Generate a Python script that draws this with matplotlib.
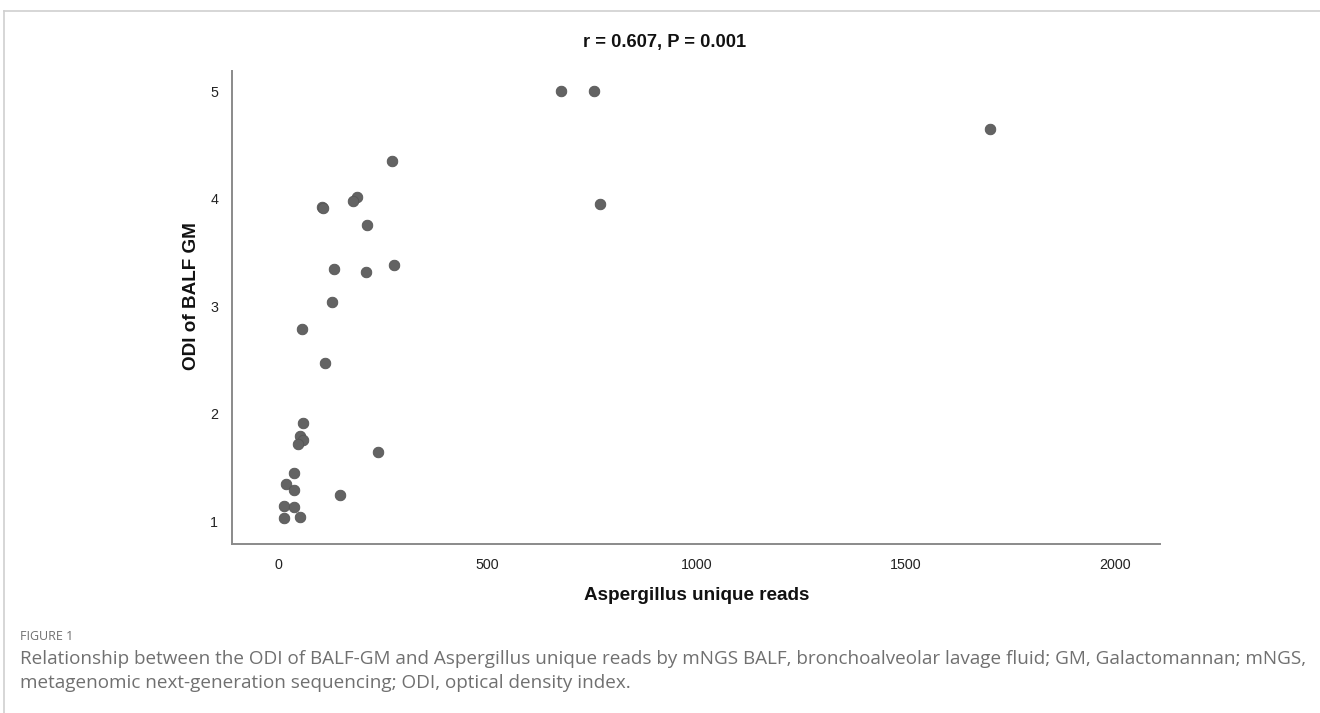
import matplotlib
matplotlib.use("Agg")
import matplotlib.pyplot as plt
from matplotlib.lines import Line2D

# Data
reads = [675, 756, 768, 1700, 273, 188, 178, 104, 108, 213, 133, 209, 278,
         129, 57, 113, 59, 53, 60, 48, 238, 38, 18, 38, 148, 14, 37, 15, 53]
odi = [5.00, 5.00, 3.95, 4.65, 4.35, 4.02, 3.98, 3.92, 3.91, 3.76, 3.35, 3.32, 3.38,
       3.04, 2.79, 2.47, 1.91, 1.79, 1.75, 1.72, 1.64, 1.45, 1.34, 1.29, 1.24, 1.14, 1.13, 1.03, 1.04]
xticks = [0, 500, 1000, 1500, 2000]
yticks = [1, 2, 3, 4, 5]

title = "r = 0.607, P = 0.001"
xlabel = "Aspergillus unique reads"
ylabel = "ODI of BALF GM"
fig_label = "FIGURE 1"
caption1 = ("Relationship between the ODI of BALF-GM and Aspergillus unique reads by mNGS BALF, "
            "bronchoalveolar lavage fluid; GM, Galactomannan; mNGS,")
caption2 = "metagenomic next-generation sequencing; ODI, optical density index."

W, H = 1320, 713
fig = plt.figure(figsize=(W / 100, H / 100), dpi=100)

def fx(px):
    return px / W

def fy(py):
    return 1 - py / H

# Outer frame lines (top and left)
fig.add_artist(Line2D([fx(4), 1.0], [fy(11), fy(11)], color="#cfcfcf", lw=1.2))
fig.add_artist(Line2D([fx(4), fx(4)], [fy(11), 0.0], color="#cfcfcf", lw=1.2))

ax = fig.add_axes([fx(232), fy(544), fx(1160) - fx(232), fy(71) - fy(544)])
ax.scatter(reads, odi, s=58, color="#636363", edgecolors="#555555", linewidths=0.6, zorder=3)

ax.set_xlim(-110, 2107)
ax.set_ylim(0.786, 5.19)
ax.set_xticks(xticks)
ax.set_yticks(yticks)
ax.tick_params(length=0, labelsize=10.3, colors="#222222", pad=10)
for lab in ax.get_xticklabels() + ax.get_yticklabels():
    lab.set_family("Liberation Sans")
for side in ["top", "right"]:
    ax.spines[side].set_visible(False)
for side in ["left", "bottom"]:
    ax.spines[side].set_color("#8a8a8a")
    ax.spines[side].set_linewidth(1.4)

fig.text(fx(665), fy(43), title, ha="center", va="center", fontsize=13.2,
         fontweight="bold", family="Liberation Sans", color="#111111")
fig.text(fx(697), fy(596), xlabel, ha="center", va="center", fontsize=13.6,
         fontweight="bold", family="Liberation Sans", color="#111111")
fig.text(fx(192), fy(296), ylabel, ha="center", va="center", rotation=90, fontsize=13.6,
         fontweight="bold", family="Liberation Sans", color="#111111")

fig.text(fx(20), fy(636), fig_label, ha="left", va="center", fontsize=9,
         family="Open Sans", color="#707070")
t1 = fig.text(fx(20), fy(659), caption1, ha="left", va="center", fontsize=12,
              family="Open Sans", color="#707070")
t2 = fig.text(fx(20), fy(683), caption2, ha="left", va="center", fontsize=12,
              family="Open Sans", color="#707070")

# Fit caption width to the reference span
fig.canvas.draw()
r = fig.canvas.get_renderer()
w = t1.get_window_extent(r).width
fs = 12 * (1305 - 20) / w
t1.set_fontsize(fs)
t2.set_fontsize(fs)

fig.savefig("out.png", dpi=100)
